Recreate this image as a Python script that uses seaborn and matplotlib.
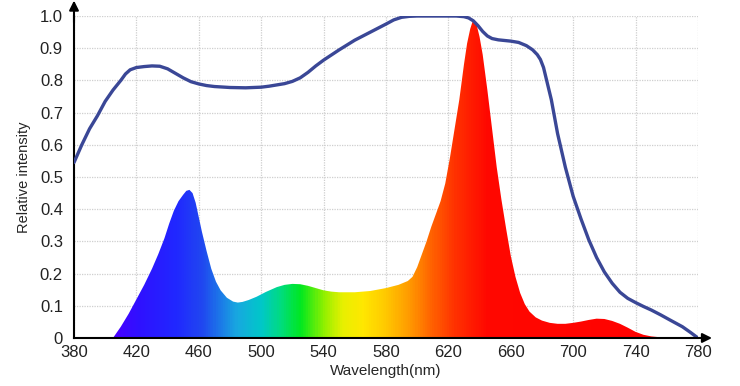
import numpy as np
import pandas as pd
import seaborn as sns
from matplotlib import pyplot as plt
from matplotlib.colors import LinearSegmentedColormap

# LED spectrum (filled, rainbow coloured)
spec_wl = [405, 410, 415, 420, 425, 430, 434, 438, 441, 444, 447, 450, 452, 454,
           456, 458, 460, 462, 465, 468, 471, 474, 478, 482, 485, 488, 492, 497,
           503, 510, 515, 520, 525, 530, 535, 540, 545, 550, 560, 570, 580, 588,
           594, 597, 600, 603, 606, 609, 612, 615, 618, 621, 624, 627, 630, 632,
           634, 636, 638, 640, 642, 645, 648, 651, 654, 657, 660, 663, 666, 669,
           672, 676, 680, 685, 690, 695, 700, 705, 710, 715, 720, 725, 730, 735,
           740, 745, 750, 756, 765]
spec_val = [0, 0.035, 0.075, 0.12, 0.165, 0.215, 0.26, 0.31, 0.355, 0.395,
            0.425, 0.445, 0.457, 0.46, 0.45, 0.42, 0.375, 0.33, 0.27, 0.215,
            0.175, 0.148, 0.125, 0.113, 0.11, 0.112, 0.118, 0.128, 0.143, 0.158,
            0.165, 0.168, 0.167, 0.162, 0.155, 0.148, 0.144, 0.142, 0.142, 0.146,
            0.155, 0.165, 0.177, 0.19, 0.22, 0.26, 0.30, 0.345, 0.385, 0.425,
            0.48, 0.56, 0.65, 0.74, 0.85, 0.915, 0.96, 0.99, 0.975, 0.935, 0.88,
            0.77, 0.65, 0.53, 0.43, 0.34, 0.255, 0.19, 0.14, 0.105, 0.082, 0.064,
            0.054, 0.047, 0.044, 0.044, 0.047, 0.051, 0.056, 0.06, 0.059, 0.053,
            0.044, 0.032, 0.019, 0.01, 0.005, 0.002, 0]

# transmission / response curve (blue line)
line_wl = [380, 385, 390, 395, 400, 405, 410, 413, 416, 420, 425, 430, 435, 440,
           445, 450, 455, 460, 465, 470, 480, 490, 500, 505, 510, 515, 520, 525,
           530, 535, 540, 550, 560, 570, 580, 585, 590, 595, 600, 620, 625, 630,
           633, 636, 639, 642, 645, 648, 652, 660, 665, 670, 674, 677, 679, 681,
           683, 686, 690, 695, 700, 705, 710, 715, 720, 725, 730, 735, 740, 745,
           750, 756, 762, 770, 775, 780]
line_val = [0.545, 0.60, 0.65, 0.69, 0.735, 0.77, 0.80, 0.82, 0.833, 0.84,
            0.843, 0.845, 0.844, 0.836, 0.822, 0.808, 0.796, 0.789, 0.784,
            0.781, 0.778, 0.777, 0.779, 0.782, 0.786, 0.79, 0.797, 0.808, 0.825,
            0.845, 0.863, 0.895, 0.925, 0.95, 0.975, 0.988, 0.996, 0.999, 1.0,
            1.0, 1.0, 0.998, 0.994, 0.985, 0.97, 0.952, 0.938, 0.93, 0.926,
            0.922, 0.918, 0.908, 0.895, 0.88, 0.865, 0.84, 0.80, 0.74, 0.635,
            0.53, 0.44, 0.37, 0.305, 0.25, 0.205, 0.17, 0.142, 0.123, 0.11,
            0.098, 0.087, 0.072, 0.056, 0.035, 0.018, 0.0]

x_ticks = [380, 420, 460, 500, 540, 580, 620, 660, 700, 740, 780]
y_ticks = [0, 0.1, 0.2, 0.3, 0.4, 0.5, 0.6, 0.7, 0.8, 0.9, 1.0]

# colour stops for the spectrum gradient
stop_wl = [380, 405, 420, 445, 462, 484, 500, 512, 525, 540, 552, 565, 580,
           595, 610, 625, 645, 780]
stop_col = ["#5a00ff", "#4a00ff", "#3010ff", "#2028ff", "#2048f0", "#18a8e0",
            "#00c8c8", "#00dc80", "#00e820", "#90f000", "#e8f000", "#ffe800",
            "#ffc800", "#ff9a00", "#ff6000", "#ff3000", "#ff0800", "#ff0000"]

sns.set_style("white")
plt.rcParams["font.family"] = ["Liberation Sans", "DejaVu Sans"]

fig = plt.figure(figsize=(7.40, 3.86), dpi=100)
ax = fig.add_axes([0.1, 0.1244, 0.8432, 0.8341])

spec = pd.DataFrame({"wl": spec_wl, "val": spec_val})
line = pd.DataFrame({"wl": line_wl, "val": line_val})

pos = [(w - 380) / 400 for w in stop_wl]
cmap = LinearSegmentedColormap.from_list("spec", list(zip(pos, stop_col)))

poly = ax.fill_between(spec["wl"], 0, spec["val"], color="none", lw=0)
grad = np.linspace(380, 780, 800).reshape(1, -1)
im = ax.imshow(grad, extent=[380, 780, 0, 1], aspect="auto", cmap=cmap,
               vmin=380, vmax=780, origin="lower", zorder=2)
im.set_clip_path(poly.get_paths()[0], transform=ax.transData)

sns.lineplot(data=line, x="wl", y="val", ax=ax, color="#3a4796", lw=2.4,
             zorder=3)

ax.set_xlim(380, 780)
ax.set_ylim(0, 1.0)
ax.set_xticks(x_ticks)
ax.set_yticks(y_ticks)
ax.set_yticklabels(["0" if v == 0 else f"{v:.1f}" for v in y_ticks])
ax.tick_params(axis="both", length=0, labelsize=12, colors="#222222")
ax.tick_params(axis="x", pad=5)
ax.tick_params(axis="y", pad=8)
ax.grid(True, color="#cfcfcf", linestyle=(0, (1, 1)), linewidth=0.9)
ax.set_axisbelow(True)

for s in ["top", "right"]:
    ax.spines[s].set_visible(False)
for s in ["left", "bottom"]:
    ax.spines[s].set_color("black")
    ax.spines[s].set_linewidth(1.5)

ax.annotate("", xy=(380, 1.048), xytext=(380, 0.98), annotation_clip=False,
            arrowprops=dict(arrowstyle="-|>", color="black", lw=1.5,
                            mutation_scale=14, shrinkA=0, shrinkB=0))
ax.annotate("", xy=(789, 0), xytext=(775, 0), annotation_clip=False,
            arrowprops=dict(arrowstyle="-|>", color="black", lw=1.5,
                            mutation_scale=14, shrinkA=0, shrinkB=0))

ax.set_xlabel("Wavelength(nm)", fontsize=11, labelpad=3)
ax.set_ylabel("Relative intensity", fontsize=10.5, labelpad=6)

fig.savefig("out.png", dpi=100)
